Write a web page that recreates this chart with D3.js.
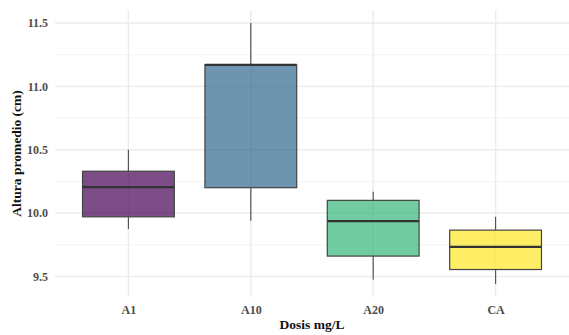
<!DOCTYPE html>
<html><head><meta charset="utf-8">
<script src="https://cdn.jsdelivr.net/npm/d3@7"></script>
<style>body{margin:0;background:#fff}svg{display:block}</style>
</head><body><svg id="c" width="569" height="335"></svg>
<script>
const categories = ["A1","A10","A20","CA"];
const whiskerLow  = [9.873, 9.94, 9.475, 9.44];
const q1          = [9.97, 10.2, 9.66, 9.554];
const median      = [10.205, 11.17, 9.936, 9.733];
const q3          = [10.33, 11.17, 10.10, 9.865];
const whiskerHigh = [10.5, 11.5, 10.168, 9.97];
const colors = ["#440154","#31688E","#35B779","#FDE725"];
const yTicks = [9.5, 10.0, 10.5, 11.0, 11.5];
const yMinor = [9.75, 10.25, 10.75, 11.25];

const svg = d3.select("#c");
const L = 55, R = 569, T = 10, B = 297;
const lo = d3.min(whiskerLow), hi = d3.max(whiskerHigh), ex = (hi-lo)*0.05;
const y = d3.scaleLinear().domain([lo-ex, hi+ex]).range([B, T]);
const x = d3.scalePoint().domain(categories).range([L, R]).padding(0.6);
const step = x.step();
const bw = step*0.75;
const font = "'Liberation Serif','Times New Roman',serif";

// grid
svg.append("g").selectAll("line").data(yMinor).join("line")
  .attr("x1",L).attr("x2",R).attr("y1",d=>y(d)).attr("y2",d=>y(d))
  .attr("stroke","#f3f3f3").attr("stroke-width",1);
svg.append("g").selectAll("line").data(yTicks).join("line")
  .attr("x1",L).attr("x2",R).attr("y1",d=>y(d)).attr("y2",d=>y(d))
  .attr("stroke","#ebebeb").attr("stroke-width",1.4);
svg.append("g").selectAll("line").data(categories).join("line")
  .attr("x1",d=>x(d)).attr("x2",d=>x(d)).attr("y1",T).attr("y2",B)
  .attr("stroke","#ebebeb").attr("stroke-width",1.4);

// axes labels via d3 axes
const ya = svg.append("g").attr("transform",`translate(${L},0)`)
  .call(d3.axisLeft(y).tickValues(yTicks).tickFormat(d3.format(".1f")).tickSize(0).tickPadding(7));
ya.select(".domain").remove();
ya.selectAll("text").attr("font-family",font).attr("font-weight","bold").attr("font-size",12).attr("fill","#4d4d4d");
const xa = svg.append("g").attr("transform",`translate(0,${B})`)
  .call(d3.axisBottom(x).tickSize(0).tickPadding(8));
xa.select(".domain").remove();
xa.selectAll("text").attr("font-family",font).attr("font-weight","bold").attr("font-size",12).attr("fill","#4d4d4d");

// boxes
const g = svg.append("g");
categories.forEach((c,i)=>{
  const cx = x(c);
  g.append("line").attr("x1",cx).attr("x2",cx).attr("y1",y(whiskerHigh[i])).attr("y2",y(q3[i]))
    .attr("stroke","#555").attr("stroke-width",1.2);
  g.append("line").attr("x1",cx).attr("x2",cx).attr("y1",y(q1[i])).attr("y2",y(whiskerLow[i]))
    .attr("stroke","#555").attr("stroke-width",1.2);
  g.append("rect").attr("x",cx-bw/2).attr("width",bw).attr("y",y(q3[i])).attr("height",y(q1[i])-y(q3[i]))
    .attr("fill",colors[i]).attr("fill-opacity",0.7).attr("stroke","#444").attr("stroke-width",1.2);
  g.append("line").attr("x1",cx-bw/2).attr("x2",cx+bw/2).attr("y1",y(median[i])).attr("y2",y(median[i]))
    .attr("stroke","#333").attr("stroke-width",2.2);
});

// titles
svg.append("text").attr("x",(L+R)/2).attr("y",329).attr("text-anchor","middle")
  .attr("font-family",font).attr("font-weight","bold").attr("font-size",13.5).attr("fill","#111").text("Dosis mg/L");
svg.append("text").attr("transform",`translate(21,${(T+B)/2}) rotate(-90)`).attr("text-anchor","middle")
  .attr("font-family",font).attr("font-weight","bold").attr("font-size",13.5).attr("fill","#111").text("Altura promedio (cm)");
</script></body></html>
